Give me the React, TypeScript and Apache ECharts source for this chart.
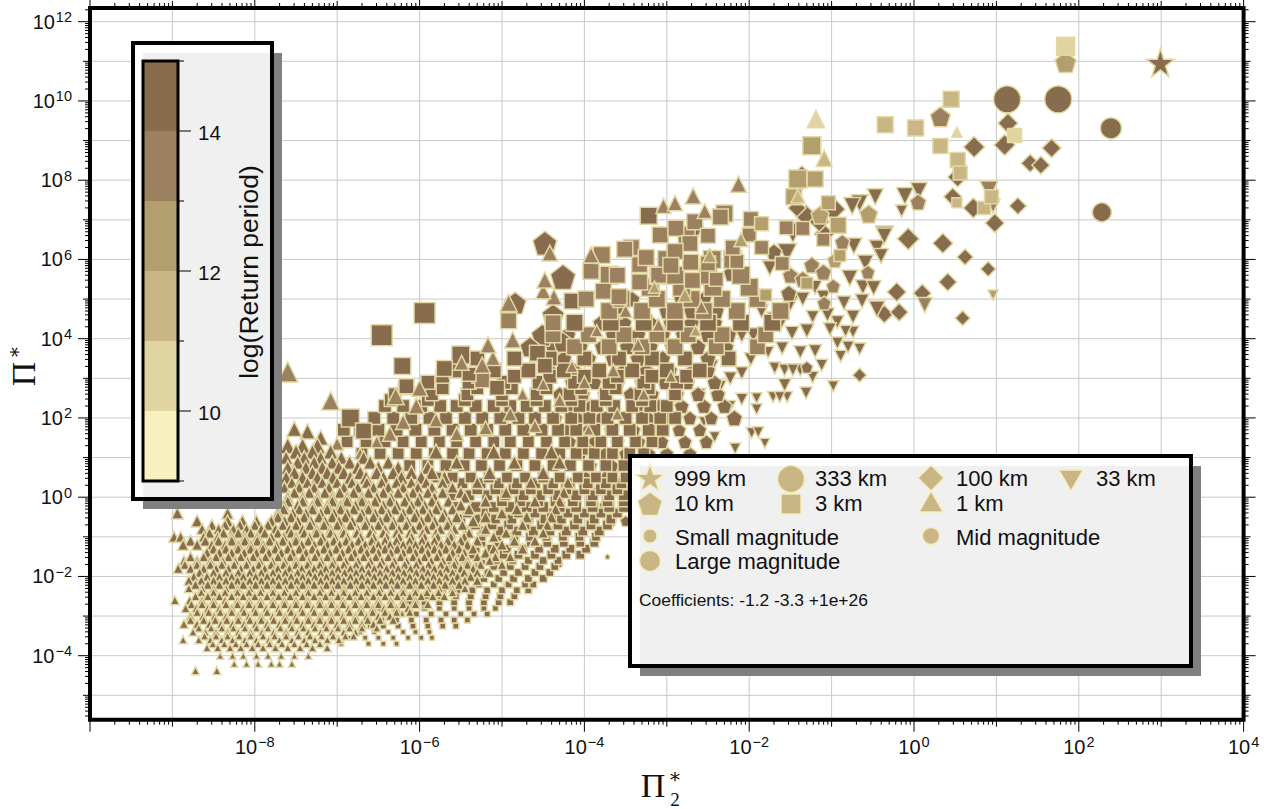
import React, { useEffect, useRef } from "react";
import * as echarts from "echarts";

// Colour levels of log(Return period), 9 to 15, one per unit
const PERIOD_COLORS = ["#F6F1BE", "#E0D5A1", "#C9B684", "#B39F6E", "#9C8160", "#876C4E"];
const EDGE = "#E2D8A4";
const FONT = "'Liberation Sans', Arial, sans-serif";

// Points as [log10 Pi2*, log10 Pi*, magnitude, log(Return period)]
const starPoints = [[2.99, 10.97, 14, 14.6]];
const circlePoints = [
  [1.13, 10.04, 13.5, 14.6], [1.75, 10.04, 13.5, 14.6], [2.39, 9.31, 10.5, 14.6], [2.28, 7.19, 9.5, 14.6],
];
const diamondPoints = [
  [-0.07, 6.52, 11, 14.5], [0.35, 6.41, 10, 14.5], [0.62, 6.06, 8, 14.5], [0.9, 5.76, 7.5, 14.5], [0.41, 5.43, 9, 14.5],
  [0.59, 4.52, 7.5, 14.5], [-0.21, 5.18, 9.5, 14.5], [0.1, 5.15, 9, 14.5], [-0.36, 4.62, 9, 14.5], [-0.18, 4.67, 9, 14.5],
  [-0.66, 3.08, 7, 14.5], [-1.36, 8.06, 12, 14.5], [0.53, 8.08, 10, 14.5], [0.47, 7.58, 9, 14.5], [0.72, 7.3, 10, 14.5],
  [0.98, 6.92, 9.5, 14.5], [-1.31, 7.1, 11, 14.5], [-0.98, 7.27, 12, 14.5], [-1.09, 6.64, 10, 14.5], [1.14, 9.44, 10, 14.5],
  [0.73, 8.84, 10.5, 14.5], [1.1, 8.89, 10.5, 14.5], [1.41, 8.43, 9, 14.5], [1.54, 8.38, 9, 14.5], [1.67, 8.81, 9.5, 14.5],
  [1.26, 7.35, 8.5, 14.5], [-1.15, 6.95, 10, 14.5], [-1.42, 7.3, 9, 14.5],
];
const invertedPoints = [
  [-1.47, 6.67, 10, 14.5], [-1.54, 6.16, 9.5, 14.5], [-2.68, 6.59, 10, 14.5], [-0.36, 6.62, 9, 14.5], [-0.73, 6.34, 8, 14.5],
  [-0.45, 6.29, 8, 14.5], [-0.4, 6.09, 7.5, 14.5], [-0.59, 5.91, 8, 14.5], [-0.78, 5.53, 8, 14.5], [-0.62, 5.3, 7.5, 14.5],
  [-0.49, 5.28, 7.5, 14.5], [-0.63, 4.95, 7, 14.5], [-0.45, 4.75, 8, 14.5], [0.13, 4.85, 7.5, 13.5], [0.96, 5.1, 5, 12.5],
  [-0.85, 4.9, 7, 14.5], [-0.74, 4.55, 7, 14.5], [-0.93, 4.42, 6.5, 14.5], [-1.02, 4.24, 6.5, 14.5], [-0.74, 4.17, 6, 14.5],
  [-0.83, 4.19, 6, 14.5], [-0.93, 3.89, 6, 14.5], [-0.66, 3.74, 6, 14.5], [-0.89, 3.56, 6, 14.5], [-0.8, 3.79, 6, 14.5],
  [-1.12, 3.33, 6, 14.5], [-1.2, 3.69, 6.5, 14.5], [-1.23, 3.03, 6, 14.5], [-0.98, 2.8, 5.5, 14.5], [-1.31, 2.63, 6, 14.5],
  [-1.57, 2.83, 6.5, 14.5], [-1.54, 2.53, 5.5, 14.5], [-1.71, 2.53, 5.5, 14.5], [-1.63, 2.53, 5.5, 14.5], [-1.91, 2.22, 5.5, 14.5],
  [-1.91, 2.5, 5.5, 14.5], [-2.09, 2.47, 6, 14.5], [-2.23, 2.3, 5.5, 14.5], [-1.97, 1.62, 5.5, 14.5], [-1.89, 1.64, 5.5, 14.5],
  [-1.81, 1.36, 5, 14.5], [-2.17, 1.23, 5.5, 14.5], [-2.42, 1.52, 5.5, 14.5], [-1.69, 3.26, 6, 14.5], [-1.57, 3.21, 6, 14.5],
  [-1.38, 3.21, 6, 14.5], [-1.47, 3.21, 6, 14.5], [-2.23, 3, 6.5, 14.5], [-2.09, 3.13, 6.5, 14.5], [-1.98, 3.48, 6.5, 14.5],
  [-1.77, 3.66, 6, 14.5], [-1.6, 3.76, 6.5, 14.5], [-1.38, 3.66, 6.5, 14.5], [-1.48, 4.14, 7, 14.5], [-1.63, 4.34, 7, 14.5],
  [-2.09, 4.09, 7.5, 14.5], [-1.95, 4.09, 7.5, 14.5], [-1.23, 4.55, 6.5, 14.5], [-1.5, 4.9, 8, 14.5], [-1.75, 5.78, 7.5, 14.5],
  [-0.47, 7.58, 8, 14.5], [-0.11, 7.6, 8.5, 14.5], [0.06, 7.73, 8.5, 14.5], [-0.66, 7.42, 8.5, 14.5], [-0.75, 7.35, 8.5, 14.5],
  [-0.15, 7.22, 6, 14], [0.91, 7.75, 9, 13.5], [0.96, 7.35, 7, 13], [-0.36, 6.59, 8, 14.5], [-1.35, 5.0, 7, 14.5],
  [-1.2, 5.3, 7, 14.5], [-1.05, 4.6, 7, 14.5], [-1.7, 4.5, 7, 14.5], [-1.85, 4.7, 7, 14.5], [-1.3, 4.2, 7, 14.5], [-1.1, 5.05, 7, 14.5],
  [-2.3, 3.5, 6.5, 14.5], [-2.35, 2.8, 6, 14.5], [-2.55, 1.9, 5.5, 14.5], [-2.6, 2.6, 6, 14.5], [-2.45, 3.3, 6.5, 14.5],
];
const pentagonPoints = [
  [1.84, 10.98, 10.5, 12.5], [0.32, 9.6, 10, 13], [0.05, 7.45, 8, 13], [-0.55, 7.15, 9, 12.5], [-1.14, 7.12, 9, 12.5],
  [-0.87, 6.44, 7.5, 13], [-1.7, 6.19, 8, 14], [-1.24, 5.86, 8, 13.5], [-1.1, 5.68, 8, 13], [-0.56, 5.68, 7, 13],
  [-0.96, 5.98, 7.5, 12.5], [-0.98, 5.33, 7, 13.5], [-1.52, 5.15, 8, 14], [-1.09, 4.9, 7, 13], [-1.3, 3.28, 6, 14],
  [-2.18, 2, 8, 14], [-2.27, 3.79, 7, 14], [-2.21, 5.66, 8.5, 14], [-2.54, 5.53, 7, 14], [-1.5, 5.6, 8, 13.5], [-1.35, 5.5, 8, 13],
  [-4.48, 6.41, 12, 14.6], [-4.26, 5.56, 12.5, 14.6], [-4.84, 4.9, 11, 14.6], [-4.38, 4.6, 11, 14.6], [-4.51, 4.09, 11, 14.6],
  [-4.26, 3.91, 10, 14.6], [-4.66, 3.79, 10, 14.6], [-3.97, 1.22, 6.5, 14.6],
  [-3.72, -1.5, 2.5, 14.6], [-3.98, -1.3, 2.5, 14.6], [-4.95, -2.2, 2.5, 14.6], [-4.3, -1.7, 3, 14.6],
];
// Dense parts of the cloud as rows: [log10 Pi*, magnitude, log(Return period), [log10 Pi2*, ...]]
const pentagonRows = [
  [5.0, 8, 14.5, [-3.42, -3.1, -2.82, -2.55, -2.32]],
  [4.7, 8, 14.5, [-3.6, -3.3, -3.0, -2.7, -2.4, -2.15]],
  [4.4, 8, 14.5, [-4.1, -3.8, -3.52, -3.2, -2.95, -2.7, -2.42]],
  [4.1, 8, 14.6, [-4.2, -3.95, -3.65, -3.35, -3.05, -2.8, -2.5, -2.25]],
  [3.8, 8, 14.6, [-4.38, -4.05, -3.78, -3.48, -3.2, -2.93, -2.62, -2.4]],
  [3.5, 8, 14.6, [-4.25, -3.95, -3.65, -3.35, -3.05, -2.78, -2.5, -2.25]],
  [3.2, 7.5, 14.6, [-4.42, -4.12, -3.82, -3.52, -3.25, -2.96, -2.68, -2.5]],
  [2.9, 7.5, 14.6, [-4.15, -3.88, -3.6, -3.3, -3.02, -2.75, -2.42]],
  [2.6, 7.5, 14.6, [-4.3, -4.02, -3.75, -3.44, -3.18, -2.88, -2.62, -2.38]],
  [2.3, 7.5, 14.6, [-4.2, -3.92, -3.66, -3.36, -3.1, -2.82, -2.55, -2.3]],
  [2.0, 7, 14.6, [-4.35, -4.08, -3.8, -3.52, -3.22, -2.98, -2.72, -2.46]],
  [1.7, 7, 14.6, [-4.22, -3.95, -3.68, -3.4, -3.12, -2.85, -2.6]],
  [1.4, 7, 14.6, [-4.18, -3.88, -3.6, -3.34, -3.06, -2.78, -2.52]],
  [1.1, 7, 14.6, [-4.05, -3.75, -3.5, -3.22, -3.0, -2.72]],
  [0.8, 6.5, 14.6, [-3.92, -3.66, -3.38]],
  [0.5, 6.5, 14.6, [-3.98, -3.75, -3.5]],
  [0.2, 6, 14.6, [-3.82, -3.58, -3.46]],
  [-0.2, 6, 14.6, [-3.75, -3.52]],
  [-0.6, 5.5, 14.6, [-3.68, -3.5]],
];
const squarePoints = [
  [1.84, 11.38, 9, 10.5], [0.45, 10.04, 8, 11.5], [-0.35, 9.4, 8, 11.5], [0.02, 9.32, 8, 11.5], [0.32, 8.86, 7.5, 11.5],
  [-1.24, 8.87, 9, 12.5], [0.53, 8.51, 7.5, 11.5], [0.56, 8.18, 7, 11.5], [1.22, 9.13, 7, 10.5], [-1.2, 8.03, 8, 12.5],
  [-1.41, 8.03, 9, 12.5], [-1.46, 7.58, 8, 12.5], [-1.04, 7.43, 7, 12.5], [-0.92, 6.86, 8, 12.5], [0.52, 7.43, 5, 11.5],
  [0.85, 7.3, 6.5, 11.5], [0.94, 7.58, 7, 11.5], [-6.46, 4.09, 10.5, 14.6], [-5.94, 4.65, 10.5, 14.6], [-6.21, 3.31, 8.5, 14.6],
  [-6.84, 2.0, 9, 14.6], [-5.5, 3.59, 9, 14.6], [-6.68, 1.67, 8, 14.6], [-6.16, 2.8, 7.5, 14.4], [-5.7, 3.25, 8, 14.6],
  [-5.24, 2.95, 7.5, 13.6], [-5.06, 2.76, 7.5, 14.6], [-5.4, 3.1, 7, 14.6], [-4.92, 4.45, 8, 13.5], [-4.38, 4.4, 8, 13.5],
  [-4.57, 3.63, 8, 14.6], [-4.48, 3.32, 7.5, 14.6], [-4.15, 4.95, 8, 14.2], [-3.98, 5.0, 8, 13.7], [-3.92, 5.7, 8, 13.7],
  [-3.79, 6.11, 8.5, 13.7], [-3.43, 6.3, 8, 13.6], [-3.33, 5.87, 8, 13.5], [-3.33, 5.43, 8, 13.5], [-3.77, 5.2, 8, 13.5],
  [-2.76, 6.62, 8.5, 13.5], [-2.66, 6.95, 8, 13.2], [-2.71, 5.93, 8, 13.2], [-2.69, 5.47, 8, 13], [-3.58, 5.06, 8, 13.5],
  [-2.3, 7.16, 8.5, 13], [-2.0, 6.62, 7, 13], [-1.98, 7.02, 7.5, 13], [-2.15, 5.95, 7, 13], [-1.85, 6.9, 7, 12.5],
  [-1.85, 6.3, 7, 13], [-1.6, 5.9, 7, 13], [-1.55, 6.8, 7, 13], [-1.35, 6.78, 7, 13], [-2.4, 5.5, 7, 13],
  [-1.1, 6.5, 6.5, 13], [-0.9, 6.1, 6, 12.5], [-1.8, 5.1, 6, 12.5], [-1.3, 5.4, 6, 12.5],
  [-3.22, 7.1, 8.5, 14], [-3.51, 6.26, 8, 13.7], [-3.08, 6.62, 8, 13.5], [-2.89, 6.79, 8, 13.5], [-2.72, 6.4, 8, 13.5],
  [-3.25, 6.05, 8, 13.7], [-2.35, 7.07, 8, 13], [-2.9, 6.2, 8, 13.5], [-2.5, 6.6, 7.5, 13.2], [-2.2, 6.3, 7.5, 13],
  [-3.6, 5.6, 8, 13.7], [-3.1, 5.6, 8, 13.6], [-2.95, 5.85, 8, 13.5], [-2.5, 5.9, 7.5, 13.2],
];
const squareRows = [
  [6.0, 9, 13.4, [-3.0, -2.45, -2.2]],
  [5.6, 9, 13.4, [-3.7, -3.1, -2.9, -2.5, -2.1]],
  [5.3, 9, 13.3, [-3.2, -2.82, -2.44, -2.0]],
  [5.0, 8.5, 13.4, [-3.55, -3.12, -2.7, -2.33, -1.9]],
  [4.7, 8.5, 13.5, [-3.7, -3.3, -2.9, -2.55, -2.15, -1.62]],
  [4.4, 8.5, 14, [-4.12, -3.68, -3.28, -2.9, -2.5, -2.1, -1.72]],
  [4.1, 8, 13.8, [-4.38, -3.95, -3.52, -3.12, -2.74, -2.33, -1.8]],
  [3.8, 8, 13.6, [-4.12, -3.7, -3.3, -2.9, -2.4, -1.9]],
  [3.5, 7.5, 14.3, [-5.3, -4.85, -4.42, -4.0, -3.58, -3.18, -2.78, -2.25]],
  [3.2, 7.5, 14.6, [-5.55, -5.1, -4.68, -4.25, -3.82, -3.42, -3.0, -2.6]],
  [3.05, 7, 14.4, [-5.72, -5.28, -4.85, -4.42, -4, -3.6, -3.18, -2.76]],
  [2.9, 7, 14.6, [-5.9, -5.4, -4.98, -4.55, -4.12, -3.7, -3.28, -2.88]],
  [2.75, 6.5, 14.6, [-6.18, -5.72, -5.3, -4.88, -4.46, -4.04, -3.62, -3.22]],
  [2.6, 6.5, 14.6, [-6.3, -5.85, -5.42, -5, -4.58, -4.18, -3.74, -3.32, -2.9]],
  [2.45, 6.5, 14.4, [-6.35, -5.9, -5.45, -5, -4.58, -4.16, -3.74, -3.3]],
  [2.3, 6.5, 14.6, [-6.42, -6.2, -5.98, -5.75, -5.55, -5.32, -5.1, -4.9, -4.7, -4.48, -4.28, -4.06, -3.85, -3.64, -3.42, -3.2, -3.0]],
  [2.0, 6.5, 14.6, [-6.55, -6.32, -6.1, -5.88, -5.68, -5.45, -5.24, -5.02, -4.8, -4.6, -4.38, -4.16, -3.94, -3.72, -3.5, -3.3, -3.08, -2.9]],
  [1.7, 6.5, 14.6, [-6.92, -6.72, -6.5, -6.28, -6.05, -5.82, -5.6, -5.38, -5.18, -4.96, -4.74, -4.52, -4.32, -4.1, -3.88, -3.66, -3.45, -3.22, -3.05]],
  [1.4, 6, 14.6, [-6.88, -6.65, -6.42, -6.2, -5.98, -5.76, -5.55, -5.32, -5.1, -4.9, -4.68, -4.46, -4.24, -4.02, -3.8, -3.6, -3.38, -3.18]],
  [1.1, 6, 14.4, [-6.7, -6.48, -6.26, -6.04, -5.82, -5.6, -5.4, -5.18, -4.96, -4.74, -4.52, -4.3, -4.1, -3.88, -3.66, -3.45, -3.28]],
  [0.8, 6, 14.6, [-6.12, -5.9, -5.68, -5.46, -5.25, -5.03, -4.82, -4.6, -4.38, -4.17, -3.95, -3.74, -3.52]],
  [0.5, 5.5, 14.4, [-5.8, -5.6, -5.38, -5.16, -4.94, -4.72, -4.5, -4.3, -4.08, -3.86, -3.66, -3.5]],
  [0.35, 5.5, 14.6, [-5.7, -5.48, -5.26, -5.04, -4.82, -4.6, -4.38, -4.18, -3.96, -3.74, -3.55]],
  [0.2, 5.5, 14.6, [-5.3, -5.08, -4.86, -4.65, -4.44, -4.22, -4, -3.8, -3.6]],
  [0.05, 5.5, 14.6, [-5.62, -5.4, -5.18, -4.96, -4.74, -4.54, -4.32, -4.1, -3.9, -3.7, -3.52]],
  [-0.1, 5.5, 14.6, [-5.0, -4.78, -4.56, -4.35, -4.14, -3.92, -3.72, -3.52]],
  [-0.25, 5.5, 14.6, [-5.55, -5.32, -5.1, -4.9, -4.7, -4.5, -4.3, -4.1, -3.9, -3.7, -3.52]],
  [-0.4, 5, 14.6, [-5.42, -5.2, -5, -4.8, -4.6, -4.4, -4.2, -4, -3.8, -3.6]],
  [-0.55, 5, 14.6, [-5.5, -5.3, -5.08, -4.88, -4.68, -4.48, -4.28, -4.08, -3.88, -3.68]],
  [-0.7, 5, 14.6, [-5.32, -5.12, -4.92, -4.72, -4.52, -4.32, -4.12, -3.92, -3.72]],
  [-0.85, 5, 14.6, [-5.42, -5.22, -5.02, -4.82, -4.62, -4.42, -4.22, -4.02, -3.82]],
  [-1.0, 4.5, 14.6, [-5.25, -5.05, -4.85, -4.66, -4.46, -4.26, -4.06, -3.86]],
  [-1.15, 4.5, 14.6, [-5.45, -5.25, -5.05, -4.85, -4.65, -4.45, -4.25, -4.05, -3.88]],
  [-1.3, 4.5, 14.6, [-5.5, -5.32, -5.13, -4.94, -4.75, -4.55, -4.36, -4.17, -3.98]],
  [-1.45, 4.5, 14.6, [-5.55, -5.36, -5.18, -4.98, -4.8, -4.6, -4.4, -4.22, -4.05]],
  [-1.6, 4, 14.6, [-5.62, -5.44, -5.25, -5.06, -4.87, -4.68, -4.5, -4.32]],
  [-1.75, 4, 14.6, [-5.65, -5.46, -5.28, -5.1, -4.9, -4.72, -4.54, -4.36]],
  [-1.9, 4, 14.6, [-5.72, -5.54, -5.36, -5.17, -4.98, -4.8, -4.6, -4.42]],
  [-2.05, 4, 14.6, [-5.78, -5.6, -5.42, -5.22, -5.04, -4.86, -4.68, -4.5]],
  [-2.2, 3.5, 14.6, [-5.82, -5.64, -5.46, -5.28, -5.1, -4.92, -4.72, -4.62]],
  [-2.35, 3.5, 14.6, [-5.9, -5.72, -5.54, -5.36, -5.18, -5, -4.82, -4.68]],
  [-2.5, 3.5, 14.6, [-6.1, -5.92, -5.74, -5.56, -5.38, -5.2, -5.02, -4.85]],
  [-2.65, 3.5, 14.6, [-6.12, -5.94, -5.76, -5.58, -5.4, -5.22, -5.04, -4.9]],
  [-2.8, 3, 14.6, [-6.48, -6.3, -6.12, -5.94, -5.76, -5.58, -5.4, -5.22, -5.08]],
  [-2.95, 3, 14.6, [-6.4, -6.22, -6.04, -5.86, -5.68, -5.5, -5.34, -5.18]],
  [-3.1, 3, 14.6, [-6.62, -6.46, -6.28, -6.1, -5.92, -5.74, -5.58, -5.42]],
  [-3.25, 3, 14.6, [-6.6, -6.44, -6.26, -6.08, -5.9, -5.72, -5.56]],
  [-3.4, 2.5, 14.6, [-6.72, -6.55, -6.38, -6.2, -6.05, -5.88]],
  [-3.55, 2.5, 14.6, [-6.85, -6.66, -6.5, -6.32, -6.14, -5.98, -5.85]],
  [-3.7, 2.5, 14.6, [-6.95, -6.62, -6.44, -6.28]],
];
const trianglePoints = [
  [-1.19, 9.54, 8.5, 10.5], [-1.09, 8.55, 8, 11.5], [0.52, 9.21, 5, 10.5], [-2.13, 7.9, 8, 13.2], [-2.68, 7.6, 8, 13.2],
  [-3.04, 7.35, 7.5, 13.3], [-1.41, 7.6, 7, 11.5], [-3.92, 6.11, 8, 13.3], [-4.42, 6.16, 8, 13.2], [-4.37, 5.05, 8, 13],
  [-4.5, 5.2, 7.5, 13], [-4.48, 5.48, 8, 13], [-4.92, 4.9, 8.5, 13], [-4.87, 3.97, 8, 13], [-5.11, 3.51, 7.5, 13],
  [-5.17, 3.84, 8, 13], [-5.24, 3.33, 8, 13], [-5.49, 3.39, 7.5, 13], [-7.6, 3.16, 10, 13.6], [-7.08, 2.43, 9, 13.6],
  [-6.29, 2.55, 8.5, 13.5], [-6, 2.75, 8, 13.6], [-6.04, 2.3, 8, 13.3], [-6.2, 1.9, 7.5, 13.3], [-6.36, 1.6, 7.5, 13.5],
  [-7.52, 1.72, 7.5, 14.2], [-7.36, 1.66, 7.5, 14.3], [-7.2, 1.5, 7.5, 14.3], [-7.0, 1.35, 6.5, 13.6], [-6.72, 1.1, 6, 13.6],
  [-6.52, 1.4, 6, 13.6], [-5.8, 1.95, 7, 13.5], [-5.55, 1.6, 7, 13.5], [-5.2, 1.75, 7, 13.5], [-4.9, 2.1, 7, 13.5],
  [-4.6, 1.8, 6.5, 13.3], [-4.3, 2.45, 6.5, 13.3], [-4.0, 2.9, 6.5, 13], [-3.65, 3.2, 6.5, 13], [-3.35, 3.85, 6.5, 13],
  [-3.1, 4.35, 6.5, 13], [-2.78, 5.1, 7, 12.8], [-2.58, 4.8, 6.5, 13], [-2.95, 3.05, 6, 13], [-3.28, 2.6, 6, 13],
  [-3.6, 2.1, 6, 13], [-3.95, 1.7, 5.5, 13.5], [-2.65, 4.2, 5.5, 12.6], [-3.15, 5.3, 6, 12.6], [-2.48, 6.1, 7, 12.4], [-2.1, 6.5, 7, 12.5],
  [-3.5, 4.7, 6.5, 13], [-3.85, 4.2, 6, 13], [-4.15, 3.3, 6, 13.2], [-4.5, 2.85, 6, 13.2], [-4.75, 2.6, 6, 13.2],
  [-2.9, 7.42, 7.5, 13.3], [-2.54, 7.22, 7.5, 13.2],
];
const triangleRows = [
  [-4.38, 4, 14.6, [-8.46, -8.72]],
  [-4.2, 3.5, 14.6, [-8.25, -8.1, -7.96, -7.8, -7.7, -7.55]],
  [-4.0, 3.5, 14.6, [-8.42, -8.27, -8.14, -7.98, -7.84, -7.68, -7.52, -7.35]],
  [-3.8, 4, 14.6, [-8.58, -8.45, -8.3, -8.17, -8.03, -7.9, -7.75, -7.6, -7.45, -7.3, -7.12]],
  [-3.7, 4, 14.6, [-8.51, -8.37, -8.23, -8.1, -7.96, -7.82, -7.67, -7.52, -7.37, -7.21]],
  [-3.6, 4, 14.6, [-8.87, -8.68, -8.54, -8.4, -8.27, -8.12, -7.98, -7.83, -7.7, -7.55, -7.4, -7.27, -7.12, -6.98]],
  [-3.5, 4, 14.6, [-8.61, -8.47, -8.33, -8.19, -8.05, -7.9, -7.76, -7.62, -7.47, -7.33, -7.19, -7.05, -6.9, -6.8]],
  [-3.4, 4, 14.6, [-8.75, -8.6, -8.47, -8.33, -8.2, -8.05, -7.91, -7.77, -7.62, -7.48, -7.35, -7.2, -7.06, -6.92, -6.78]],
  [-3.3, 4, 14.6, [-8.68, -8.53, -8.4, -8.26, -8.12, -7.98, -7.84, -7.69, -7.55, -7.41, -7.27, -7.13, -6.99, -6.85, -6.7, -6.52]],
  [-3.2, 4.5, 14.6, [-8.86, -8.7, -8.55, -8.41, -8.27, -8.13, -7.99, -7.85, -7.7, -7.56, -7.42, -7.28, -7.14, -7, -6.85, -6.7, -6.56]],
  [-3.1, 4.5, 14.6, [-8.78, -8.62, -8.48, -8.34, -8.2, -8.06, -7.92, -7.77, -7.63, -7.49, -7.35, -7.21, -7.07, -6.92, -6.78, -6.63, -6.48, -6.32]],
  [-3.0, 4.5, 14.6, [-8.78, -8.63, -8.49, -8.35, -8.2, -8.07, -7.92, -7.78, -7.63, -7.5, -7.35, -7.21, -7.07, -6.93, -6.78, -6.64, -6.5, -6.36]],
  [-2.9, 4.5, 14.6, [-8.7, -8.56, -8.42, -8.28, -8.13, -7.99, -7.85, -7.7, -7.56, -7.42, -7.28, -7.14, -7, -6.85, -6.71, -6.57, -6.42, -6.28, -6.12]],
  [-2.8, 4.5, 14.6, [-8.84, -8.71, -8.57, -8.43, -8.28, -8.14, -8, -7.86, -7.71, -7.57, -7.43, -7.29, -7.14, -7, -6.86, -6.71, -6.57, -6.43, -6.28, -6.14]],
  [-2.7, 4.5, 14.6, [-8.77, -8.64, -8.5, -8.35, -8.21, -8.07, -7.93, -7.78, -7.64, -7.5, -7.36, -7.21, -7.07, -6.93, -6.78, -6.64, -6.5, -6.35, -6.2, -6.05, -5.9]],
  [-2.6, 4.5, 14.6, [-8.97, -8.79, -8.64, -8.5, -8.36, -8.21, -8.07, -7.93, -7.78, -7.64, -7.5, -7.36, -7.21, -7.07, -6.93, -6.78, -6.64, -6.5, -6.35, -6.2, -6.05]],
  [-2.5, 4.5, 14.6, [-8.72, -8.57, -8.43, -8.28, -8.14, -8, -7.85, -7.71, -7.57, -7.42, -7.28, -7.14, -6.99, -6.85, -6.71, -6.56, -6.42, -6.27, -6.12, -5.98, -5.84, -5.7]],
  [-2.4, 4.5, 14.6, [-8.65, -8.5, -8.36, -8.21, -8.07, -7.93, -7.78, -7.64, -7.5, -7.35, -7.21, -7.07, -6.92, -6.78, -6.64, -6.49, -6.35, -6.2, -6.05, -5.91, -5.77, -5.6]],
  [-2.3, 4.5, 14.6, [-8.8, -8.64, -8.5, -8.35, -8.21, -8.06, -7.92, -7.78, -7.63, -7.49, -7.35, -7.2, -7.06, -6.92, -6.77, -6.63, -6.48, -6.34, -6.2, -6.05, -5.9, -5.76, -5.6, -5.45]],
  [-2.2, 5, 14.6, [-8.72, -8.57, -8.43, -8.28, -8.14, -7.99, -7.85, -7.71, -7.56, -7.42, -7.28, -7.13, -6.99, -6.84, -6.7, -6.56, -6.41, -6.27, -6.12, -5.98, -5.83, -5.69, -5.52]],
  [-2.1, 5, 14.6, [-8.8, -8.65, -8.5, -8.35, -8.21, -8.06, -7.92, -7.78, -7.63, -7.49, -7.35, -7.2, -7.06, -6.92, -6.77, -6.63, -6.48, -6.34, -6.2, -6.05, -5.9, -5.76, -5.6, -5.45, -5.3]],
  [-2.0, 5, 14.6, [-8.74, -8.58, -8.43, -8.28, -8.14, -7.99, -7.85, -7.71, -7.56, -7.42, -7.27, -7.13, -6.99, -6.84, -6.7, -6.55, -6.41, -6.26, -6.12, -5.97, -5.83, -5.68, -5.54, -5.38]],
  [-1.9, 5, 14.6, [-8.67, -8.5, -8.35, -8.2, -8.06, -7.92, -7.78, -7.63, -7.48, -7.34, -7.2, -7.06, -6.91, -6.77, -6.62, -6.48, -6.33, -6.19, -6.04, -5.9, -5.75, -5.6, -5.46, -5.3, -5.15]],
  [-1.8, 5, 14.6, [-8.93, -8.78, -8.62, -8.47, -8.32, -8.17, -8.02, -7.88, -7.72, -7.58, -7.43, -7.28, -7.14, -6.99, -6.84, -6.7, -6.55, -6.4, -6.26, -6.11, -5.96, -5.82, -5.67, -5.5, -5.35]],
  [-1.7, 5, 14.6, [-8.85, -8.7, -8.54, -8.4, -8.25, -8.1, -7.95, -7.8, -7.65, -7.5, -7.36, -7.21, -7.06, -6.92, -6.77, -6.62, -6.48, -6.33, -6.18, -6.04, -5.89, -5.74, -5.58, -5.42, -5.26, -5.0]],
  [-1.6, 5, 14.6, [-8.86, -8.7, -8.54, -8.39, -8.24, -8.09, -7.94, -7.79, -7.64, -7.5, -7.35, -7.2, -7.05, -6.9, -6.75, -6.6, -6.46, -6.31, -6.16, -6.01, -5.86, -5.72, -5.57, -5.42, -5.15]],
  [-1.5, 5, 14.6, [-8.78, -8.62, -8.47, -8.32, -8.17, -8.02, -7.87, -7.72, -7.57, -7.42, -7.27, -7.12, -6.97, -6.83, -6.68, -6.53, -6.38, -6.23, -6.08, -5.94, -5.79, -5.64, -5.48, -5.3, -5.08, -4.9]],
  [-1.4, 5.5, 14.6, [-8.58, -8.43, -8.28, -8.13, -7.98, -7.83, -7.68, -7.54, -7.38, -7.24, -7.09, -6.94, -6.79, -6.64, -6.5, -6.35, -6.2, -6.05, -5.9, -5.76, -5.6, -5.46, -5.2]],
  [-1.3, 5.5, 14.6, [-8.5, -8.35, -8.2, -8.05, -7.9, -7.75, -7.6, -7.46, -7.3, -7.16, -7.01, -6.86, -6.71, -6.56, -6.42, -6.27, -6.12, -5.97, -5.82, -5.68, -5.52, -5.35, -5.1, -4.75]],
  [-1.2, 5.5, 14.6, [-8.87, -8.7, -8.52, -8.36, -8.2, -8.05, -7.9, -7.74, -7.58, -7.43, -7.28, -7.12, -6.97, -6.82, -6.66, -6.5, -6.36, -6.2, -6.05, -5.9, -5.74, -5.58, -5.42, -5.0]],
  [-1.1, 5.5, 14.6, [-8.78, -8.6, -8.44, -8.28, -8.12, -7.97, -7.82, -7.66, -7.5, -7.35, -7.2, -7.04, -6.89, -6.74, -6.58, -6.42, -6.28, -6.12, -5.97, -5.82, -5.66, -5.5, -5.3, -4.85, -4.6]],
  [-1.0, 5.5, 14.6, [-8.98, -8.9, -8.62, -8.45, -8.28, -8.12, -7.97, -7.8, -7.65, -7.5, -7.34, -7.18, -7.03, -6.88, -6.72, -6.56, -6.4, -6.25, -6.1, -5.94, -5.78, -5.62, -5.46, -5.1]],
  [-0.9, 5.5, 14.6, [-8.55, -8.38, -8.2, -8.05, -7.88, -7.72, -7.56, -7.4, -7.25, -7.08, -6.92, -6.76, -6.6, -6.44, -6.28, -6.12, -5.96, -5.8, -5.62, -5.4, -4.95, -4.5]],
  [-0.8, 5.5, 14.6, [-8.64, -8.44, -8.26, -8.1, -7.92, -7.75, -7.58, -7.42, -7.25, -7.08, -6.92, -6.75, -6.58, -6.42, -6.25, -6.08, -5.92, -5.75, -5.58, -5.2]],
  [-0.7, 5.5, 14.6, [-8.52, -8.36, -8.18, -8, -7.84, -7.66, -7.5, -7.33, -7.16, -7, -6.84, -6.66, -6.5, -6.33, -6.16, -6, -5.84, -5.66, -5.48, -4.75, -4.45]],
  [-0.6, 6, 14.6, [-8.7, -8.33, -8.15, -7.98, -7.8, -7.64, -7.48, -7.32, -7.15, -6.98, -6.82, -6.65, -6.48, -6.32, -6.15, -5.98, -5.82, -5.65, -5.35]],
  [-0.5, 6, 14.6, [-7.72, -7.56, -7.4, -7.22, -7.06, -6.9, -6.72, -6.56, -6.4, -6.22, -6.06, -5.9, -5.72, -5.55, -5.2, -4.7, -4.4]],
  [-0.4, 6, 14.6, [-8.94, -8.33, -7.72, -7.54, -7.38, -7.2, -7.04, -6.88, -6.7, -6.54, -6.38, -6.2, -6.04, -5.88, -5.7, -5.0]],
  [-0.3, 6, 14.6, [-7.65, -7.46, -7.3, -7.12, -6.96, -6.8, -6.62, -6.46, -6.3, -6.12, -5.96, -5.8, -5.6, -5.4, -4.82, -4.35]],
  [-0.2, 6, 14.6, [-7.65, -7.48, -7.3, -7.12, -6.96, -6.78, -6.62, -6.44, -6.28, -6.1, -5.94, -5.78, -5.5]],
  [-0.1, 6, 14.6, [-7.6, -7.42, -7.24, -7.06, -6.88, -6.7, -6.54, -6.36, -6.18, -6.02, -5.85, -5.65, -5.2, -4.6, -4.3]],
  [0.0, 6, 14.6, [-7.6, -7.42, -7.24, -7.06, -6.88, -6.7, -6.52, -6.35, -6.16, -6, -5.82, -5.45]],
  [0.12, 6, 14.6, [-7.52, -7.34, -7.15, -6.97, -6.8, -6.62, -6.44, -6.26, -6.08, -5.9, -5.72, -5.5, -4.95, -4.25]],
  [0.25, 6, 14.6, [-7.64, -7.46, -7.28, -7.1, -6.92, -6.75, -6.56, -6.38, -6.2, -6.02, -5.85, -5.6]],
  [0.37, 6, 14.6, [-7.55, -7.36, -7.18, -7, -6.82, -6.64, -6.46, -6.28, -6.1, -5.92, -5.72, -5.3, -4.65, -4.2]],
  [0.5, 7, 14.6, [-7.62, -7.42, -7.24, -7.05, -6.84, -6.65, -6.44, -6.22, -5.98, -5.7]],
  [0.62, 7, 14.6, [-7.52, -7.3, -7.12, -6.92, -6.72, -6.52, -6.32, -6.1, -5.85, -5.15, -4.5]],
  [0.75, 7, 14.6, [-7.6, -7.38, -7.18, -6.98, -6.75, -6.5, -6.26, -5.9]],
  [0.88, 7, 14.6, [-7.48, -7.28, -7.06, -6.85, -6.6, -6.38, -5.55, -4.85, -4.3]],
  [1.0, 7, 14.6, [-7.62, -7.4, -7.2, -6.95, -6.68]],
  [1.15, 7.5, 14.6, [-7.5, -7.3, -7.08, -5.8, -5.1, -4.4]],
  [1.3, 8, 14.5, [-7.6, -7.42, -7.24]],
];

// Tick tables of the two logarithmic axes
const X_DECADES = [-10, -9, -8, -7, -6, -5, -4, -3, -2, -1, 0, 1, 2, 3];
const Y_DECADES = [-6, -5, -4, -3, -2, -1, 0, 1, 2, 3, 4, 5, 6, 7, 8, 9, 10, 11, 12];
const MINOR_FACTORS = [2, 3, 4, 5, 6, 7, 8, 9];
const X_MIN = 1e-10;
const X_MAX = 1e4;
const Y_MIN = 10 ** -5.615;
const Y_MAX = 10 ** 12.346;

const LEGEND_SYMBOLS = ["999 km", "333 km", "100 km", "33 km", "10 km", "3 km", "1 km"];
const LEGEND_SIZES = ["Small magnitude", "Mid magnitude", "Large magnitude"];
const COEFFICIENTS = "Coefficients: -1.2 -3.3 +1e+26";
const PERIOD_TICKS = ["14", "12", "10"];

const STAR = "path://M50 0L61 35H98L68 57L79 91L50 70L21 91L32 57L2 35H39Z";
const PENTAGON = "path://M50 0L98 36L80 92H20L2 36Z";

const colorOf = (rp: number) => PERIOD_COLORS[Math.max(0, Math.min(5, Math.floor(rp) - 9))];
const toPoint = (p: number[]) => [10 ** p[0], 10 ** p[1], p[2], p[3]];
const fromRows = (rows: any[]) =>
  rows.slice().reverse().flatMap((r) => r[3].map((x: number) => toPoint([x, r[0], r[1], r[2]])));

const scatter = (name: string, symbol: string, points: number[][], z: number, rotate = 0) => ({
  type: "scatter",
  name,
  symbol,
  symbolRotate: rotate,
  data: points,
  z,
  silent: true,
  progressive: 0,
  symbolSize: (v: number[]) => v[2] * 2,
  itemStyle: {
    color: (p: any) => colorOf(p.value[3]),
    borderColor: EDGE,
    borderWidth: 1.5,
    opacity: 1,
  },
});

const gridAndFrameItem = (_: any, api: any) => {
  const children: any[] = [];
  const line = (x1: number, y1: number, x2: number, y2: number, w: number, stroke = "#000") =>
    children.push({ type: "line", shape: { x1, y1, x2, y2 }, style: { stroke, lineWidth: w } });
  const [left, bottom] = api.coord([X_MIN, Y_MIN]);
  const [right, top] = api.coord([X_MAX, Y_MAX]);
  const vertical = (v: number, len: number, gridline: boolean) => {
    if (v < X_MIN || v > X_MAX) return;
    const x = api.coord([v, Y_MIN])[0];
    if (gridline) line(x, bottom, x, top, 1, "#C9C9C9");
    line(x, bottom, x, bottom + len, 1);
    line(x, top, x, top - len, 1);
  };
  const horizontal = (v: number, len: number, gridline: boolean) => {
    if (v < Y_MIN || v > Y_MAX) return;
    const y = api.coord([X_MIN, v])[1];
    if (gridline) line(left, y, right, y, 1, "#C9C9C9");
    line(left, y, left - len, y, 1);
    line(right, y, right + len, y, 1);
  };
  [...X_DECADES, 4].forEach((d) => {
    vertical(10 ** d, d % 2 === 0 ? 12 : 7, true);
    if (d < 4) MINOR_FACTORS.forEach((f) => vertical(f * 10 ** d, 5, false));
  });
  Y_DECADES.forEach((d) => {
    horizontal(10 ** d, d % 2 === 0 ? 12 : 7, true);
    MINOR_FACTORS.forEach((f) => horizontal(f * 10 ** d, 5, false));
  });
  children.push({
    type: "rect",
    shape: { x: left, y: top, width: right - left, height: bottom - top },
    style: { fill: "none", stroke: "#000", lineWidth: 4 },
  });
  return { type: "group", children };
};

const decadeLabel = (lo: number, hi: number) => (value: number) => {
  const e = Math.log10(value);
  const r = Math.round(e);
  if (Math.abs(e - r) > 1e-6 || r % 2 !== 0 || r < lo || r > hi) return "";
  return `{b|10}{s|${r < 0 ? "\u2212" + -r : r}}`;
};
const labelRich = {
  b: { fontFamily: FONT, fontSize: 20, color: "#111" },
  s: { fontFamily: FONT, fontSize: 14.5, color: "#111", padding: [0, 0, 9, 1] },
};

const polygonPoints = (pts: number[][], cx: number, cy: number, s: number) =>
  pts.map((p) => [cx + p[0] * s, cy + p[1] * s]);
const STAR_SHAPE = [
  [0, -1], [0.24, -0.32], [0.96, -0.31], [0.38, 0.12], [0.59, 0.81], [0, 0.4], [-0.59, 0.81], [-0.38, 0.12], [-0.96, -0.31], [-0.24, -0.32],
];
const PENTAGON_SHAPE = [[0, -1], [0.95, -0.31], [0.59, 0.81], [-0.59, 0.81], [-0.95, -0.31]];
const DIAMOND_SHAPE = [[0, -1], [1, 0], [0, 1], [-1, 0]];
const DOWN_SHAPE = [[-1, -0.75], [1, -0.75], [0, 1]];
const UP_SHAPE = [[0, -1], [1, 0.75], [-1, 0.75]];

// The chart's div starts above the page, so that the whole-decade y scale can reach 1e13
const PAGE_OFFSET = 40;

const buildGraphic = () => {
  const z = 50;
  const els: any[] = [];
  const panel = (x: number, y: number, w: number, h: number) => {
    els.push({ type: "rect", z, shape: { x: x + 10, y: y + 10, width: w, height: h }, style: { fill: "#808080" }, silent: true });
    els.push({ type: "rect", z, shape: { x, y, width: w, height: h }, style: { fill: "rgba(255,255,255,0.96)" }, silent: true });
    els.push({ type: "rect", z, shape: { x: x + 10, y: y + 10, width: w - 10, height: h - 10 }, style: { fill: "#F0F0F1" }, silent: true });
    els.push({ type: "rect", z, shape: { x, y, width: w, height: h }, style: { fill: "none", stroke: "#000", lineWidth: 4 }, silent: true });
  };
  const text = (t: string, x: number, y: number, size: number, extra: any = {}) =>
    els.push({
      type: "text", z, x, y, silent: true,
      style: { text: t, font: `${size}px ${FONT}`, fill: "#111", textAlign: "left", textVerticalAlign: "middle", ...extra },
    });
  const KEY = { fill: "#C9B684", stroke: "#F3EEBC", lineWidth: 1.5 };
  const poly = (shape: number[][], cx: number, cy: number, s: number) =>
    els.push({ type: "polygon", z, silent: true, shape: { points: polygonPoints(shape, cx, cy, s) }, style: KEY });
  const circle = (cx: number, cy: number, r: number) =>
    els.push({ type: "circle", z, silent: true, shape: { cx, cy, r }, style: KEY });

  // Colour bar
  panel(133, 43, 139, 456);
  PERIOD_COLORS.forEach((c, i) => {
    els.push({ type: "rect", z, silent: true, shape: { x: 143, y: 411 - i * 70, width: 35, height: 70 }, style: { fill: c } });
  });
  els.push({ type: "rect", z, silent: true, shape: { x: 143, y: 61, width: 35, height: 420 }, style: { fill: "none", stroke: "#000", lineWidth: 3 } });
  [61, 131, 201, 271, 341, 411, 481].forEach((y, i) => {
    const len = i % 2 === 1 ? 12 : 5;
    els.push({ type: "line", z, silent: true, shape: { x1: 178, y1: y, x2: 178 + len + 1, y2: y }, style: { stroke: "#000", lineWidth: 1 } });
  });
  PERIOD_TICKS.forEach((t, i) => text(t, 198, 132 + i * 140, 20.5));
  els.push({
    type: "text", z, silent: true, x: 249, y: 272, rotation: Math.PI / 2,
    style: { text: "log(Return period)", font: `26.5px ${FONT}`, fill: "#111", textAlign: "center", textVerticalAlign: "middle" },
  });

  // Legend
  panel(630, 456, 561, 210);
  poly(STAR_SHAPE, 650, 479, 15);
  circle(791, 479, 13.5);
  poly(DIAMOND_SHAPE, 931, 478, 13);
  poly(DOWN_SHAPE, 1071, 479, 12);
  poly(PENTAGON_SHAPE, 650, 505, 13);
  els.push({ type: "rect", z, silent: true, shape: { x: 781, y: 494, width: 20, height: 20 }, style: KEY });
  poly(UP_SHAPE, 931, 503, 12);
  const symbolX = [674, 815, 956, 1096, 674, 815, 956];
  const symbolY = [478, 478, 478, 478, 503, 503, 503];
  LEGEND_SYMBOLS.forEach((t, i) => text(t, symbolX[i], symbolY[i], 22));
  circle(650, 536, 7);
  circle(931, 536, 8.5);
  circle(650, 561, 10.5);
  text(LEGEND_SIZES[0], 675, 537, 22);
  text(LEGEND_SIZES[1], 956, 537, 22);
  text(LEGEND_SIZES[2], 675, 561, 22);
  text(COEFFICIENTS, 639, 600, 17.4);

  // Axis titles
  const serif = "'Liberation Serif', 'DejaVu Serif', serif";
  const math = (t: string, x: number, y: number, size: number, rotation = 0) =>
    els.push({ type: "text", z, silent: true, x, y, rotation, style: { text: t, font: `${size}px ${serif}`, fill: "#111", textAlign: "center", textVerticalAlign: "middle" } });
  math("\u03A0", 653, 785, 34);
  math("\u2217", 675, 776, 20);
  math("2", 675, 799, 19);
  math("\u03A0", 23, 374, 34, Math.PI / 2);
  math("\u2217", 14, 352, 20, Math.PI / 2);
  return [{ type: "group", y: PAGE_OFFSET, silent: true, children: els }];
};

const logAxis = (min: number, max: number, margin: number, lo: number, hi: number) => ({
  type: "log",
  logBase: 10,
  min,
  max,
  interval: 1,
  axisLine: { show: false },
  axisTick: { show: false },
  minorTick: { show: false },
  splitLine: { show: false },
  axisLabel: { formatter: decadeLabel(lo, hi), margin, rich: labelRich, showMinLabel: true, showMaxLabel: true, hideOverlap: false, interval: 0 },
});

export default function App() {
  const ref = useRef<HTMLDivElement>(null);
  useEffect(() => {
    const chart = echarts.init(ref.current!, undefined, { renderer: "svg" });
    chart.setOption({
      animation: false,
      backgroundColor: "#FFFFFF",
      // The y scale runs over whole decades, 1e-6 to 1e13; the frame is drawn between Y_MIN and Y_MAX
      grid: { left: 90, top: 22.075, width: 1153.6, height: 752.875, show: false, containLabel: false },
      xAxis: logAxis(X_MIN, X_MAX, 0, -8, 4),
      yAxis: logAxis(1e-6, 1e13, 18, -4, 12),
      graphic: buildGraphic(),
      series: [
        { type: "custom", silent: true, clip: false, z: 1, renderItem: gridAndFrameItem, data: [[1, 1]], encode: { x: 0, y: 1 } },
        scatter("999 km", STAR, starPoints.map(toPoint), 3),
        scatter("333 km", "circle", circlePoints.map(toPoint), 4),
        scatter("100 km", "diamond", diamondPoints.map(toPoint), 5),
        scatter("33 km", "triangle", invertedPoints.map(toPoint), 6, 180),
        scatter("10 km", PENTAGON, [...fromRows(pentagonRows), ...pentagonPoints.map(toPoint)], 7),
        scatter("3 km", "rect", [...fromRows(squareRows), ...squarePoints.map(toPoint)], 8),
        scatter("1 km", "triangle", [...trianglePoints.map(toPoint), ...fromRows(triangleRows)], 9),
      ],
    });
    return () => chart.dispose();
  }, []);
  return <div ref={ref} style={{ position: "fixed", left: 0, top: -PAGE_OFFSET, width: 1274, height: 809 + PAGE_OFFSET }} />;
}
